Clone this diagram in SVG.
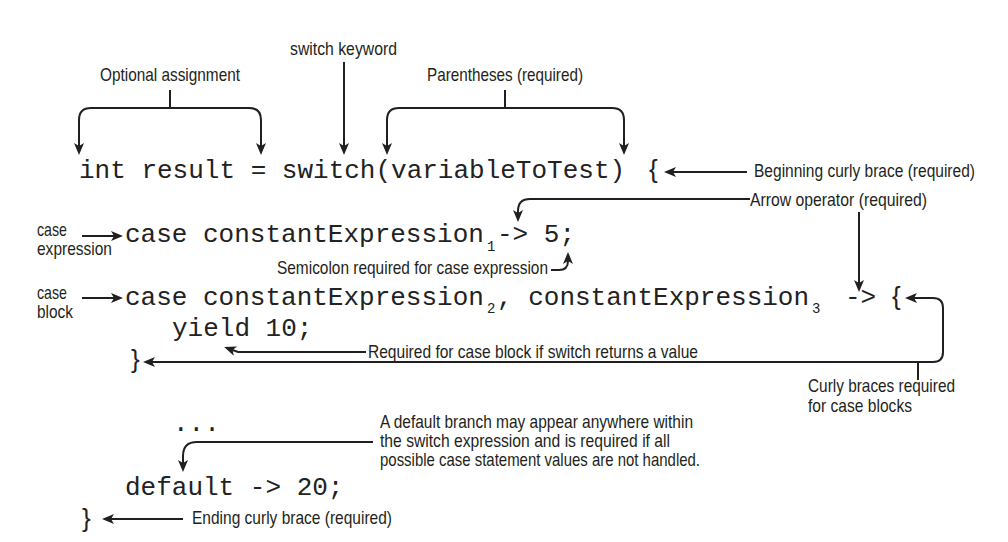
<svg xmlns="http://www.w3.org/2000/svg" width="1008" height="542" viewBox="0 0 1008 542">
<style>
.code{font-family:"Liberation Mono","Courier New",monospace;font-size:26px;fill:#222;}
.sub{font-family:"Liberation Mono","Courier New",monospace;font-size:14px;fill:#222;}
.brace{font-family:"Liberation Sans",Arial,sans-serif;font-size:26px;fill:#222;}
.note{font-family:"Liberation Sans Narrow","Liberation Sans",Arial,sans-serif;font-size:19px;fill:#231f20;}
.ln{fill:none;stroke:#231f20;stroke-width:2;}
.arr{marker-end:url(#ah);}
</style>
<defs>
<marker id="ah" viewBox="0 0 12 10" refX="9" refY="5" markerWidth="12" markerHeight="10" markerUnits="userSpaceOnUse" orient="auto-start-reverse">
<path d="M0,0 L12,5 L0,10 L3,5 Z" fill="#231f20"/>
</marker>
</defs>
<rect width="1008" height="542" fill="#fff"/>

<g id="code">
<text class="code" x="79" y="178">int result = switch(variableToTest)</text>
<text class="brace" x="649" y="178">{</text>
<text class="code" x="125" y="242">case constantExpression</text>
<text class="sub" x="487" y="251">1</text>
<text class="code" x="497" y="242">-&gt; 5;</text>
<text class="code" x="125" y="305">case constantExpression</text>
<text class="sub" x="487" y="313">2</text>
<text class="code" x="497" y="305">, constantExpression</text>
<text class="sub" x="812" y="313">3</text>
<text class="code" x="845" y="305">-&gt;</text>
<text class="brace" x="892" y="305">{</text>
<text class="code" x="172" y="336">yield 10;</text>
<text class="brace" x="131" y="368">}</text>
<text class="code" x="173" y="431">...</text>
<text class="code" x="125" y="495">default -&gt; 20;</text>
<text class="brace" x="82" y="527">}</text>
</g>

<g id="n-switch-keyword"><text class="note" x="290" y="55" textLength="107" lengthAdjust="spacingAndGlyphs">switch keyword</text></g>
<g id="n-optional"><text class="note" x="100" y="81" textLength="140" lengthAdjust="spacingAndGlyphs">Optional assignment</text></g>
<g id="n-parens"><text class="note" x="427" y="81" textLength="156" lengthAdjust="spacingAndGlyphs">Parentheses (required)</text></g>
<g id="n-begin"><text class="note" x="754" y="177" style="font-size:17.5px" textLength="221" lengthAdjust="spacingAndGlyphs">Beginning curly brace (required)</text></g>
<g id="n-arrowop"><text class="note" x="750" y="206" textLength="177" lengthAdjust="spacingAndGlyphs">Arrow operator (required)</text></g>
<g id="n-case-expr">
<text class="note" x="37" y="236" textLength="30" lengthAdjust="spacingAndGlyphs">case</text>
<text class="note" x="37" y="255" textLength="75" lengthAdjust="spacingAndGlyphs">expression</text>
</g>
<g id="n-semicolon"><text class="note" x="277" y="274" textLength="271" lengthAdjust="spacingAndGlyphs">Semicolon required for case expression</text></g>
<g id="n-case-block">
<text class="note" x="37" y="299" textLength="30" lengthAdjust="spacingAndGlyphs">case</text>
<text class="note" x="37" y="318" textLength="36" lengthAdjust="spacingAndGlyphs">block</text>
</g>
<g id="n-yield"><text class="note" x="368" y="358" textLength="330" lengthAdjust="spacingAndGlyphs">Required for case block if switch returns a value</text></g>
<g id="n-curly">
<text class="note" x="808" y="392" textLength="147" lengthAdjust="spacingAndGlyphs">Curly braces required</text>
<text class="note" x="808" y="412" textLength="104" lengthAdjust="spacingAndGlyphs">for case blocks</text>
</g>
<g id="n-default">
<text class="note" x="380" y="428" textLength="313" lengthAdjust="spacingAndGlyphs">A default branch may appear anywhere within</text>
<text class="note" x="380" y="447" textLength="290" lengthAdjust="spacingAndGlyphs">the switch expression and is required if all</text>
<text class="note" x="380" y="466" textLength="320" lengthAdjust="spacingAndGlyphs">possible case statement values are not handled.</text>
</g>
<g id="n-ending"><text class="note" x="192" y="524" textLength="200" lengthAdjust="spacingAndGlyphs">Ending curly brace (required)</text></g>

<g id="connectors">
<path class="ln" d="M170 90 V108"/>
<path class="ln arr" d="M170 108 H91 Q79 108 79 120 V152"/>
<path class="ln arr" d="M170 108 H249 Q261 108 261 120 V152"/>
<path class="ln arr" d="M344 62 V152"/>
<path class="ln" d="M505 90 V108"/>
<path class="ln arr" d="M505 108 H399 Q387 108 387 120 V152"/>
<path class="ln arr" d="M505 108 H612 Q624 108 624 120 V152"/>
<path class="ln arr" d="M747 172 H667"/>
<path class="ln arr" d="M750 199 H530 Q518 199 518 211 V219"/>
<path class="ln arr" d="M859 212 V289"/>
<path class="ln arr" d="M82 236 H120"/>
<path class="ln arr" d="M82 298 H120"/>
<path class="ln arr" d="M551 270 H559 Q568 270 568 261 V255"/>
<path class="ln" style="marker-start:url(#ah);marker-end:url(#ah)" d="M908 298 H933 Q943 298 943 308 V352 Q943 362 933 362 H146"/>
<path class="ln" d="M918 362 V380"/>
<path class="ln arr" d="M366 352 H238 L227 348"/>
<path class="ln arr" d="M373 442 H197 Q183 442 183 456 V469"/>
<path class="ln arr" d="M183 519 H105"/>
</g>
</svg>
